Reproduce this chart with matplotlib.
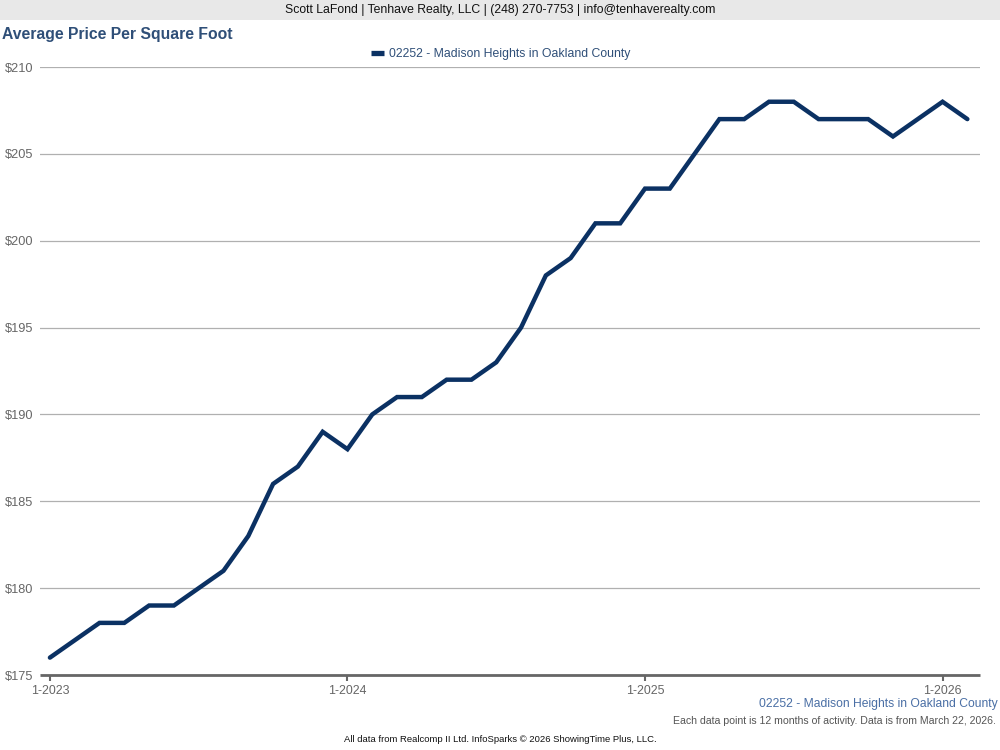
import matplotlib
matplotlib.use("Agg")
import matplotlib.pyplot as plt
from matplotlib.patches import Rectangle

plt.rcParams['font.family'] = ['Liberation Sans', 'DejaVu Sans']

# ---- data ----
series_name = "02252 - Madison Heights in Oakland County"
months = ["1-2023", "2-2023", "3-2023", "4-2023", "5-2023", "6-2023", "7-2023", "8-2023",
          "9-2023", "10-2023", "11-2023", "12-2023",
          "1-2024", "2-2024", "3-2024", "4-2024", "5-2024", "6-2024", "7-2024", "8-2024",
          "9-2024", "10-2024", "11-2024", "12-2024",
          "1-2025", "2-2025", "3-2025", "4-2025", "5-2025", "6-2025", "7-2025", "8-2025",
          "9-2025", "10-2025", "11-2025", "12-2025",
          "1-2026", "2-2026"]
values = [176, 177, 178, 178, 179, 179, 180, 181, 183, 186, 187, 189,
          188, 190, 191, 191, 192, 192, 193, 195, 198, 199, 201, 201,
          203, 203, 205, 207, 207, 208, 208, 207, 207, 207, 206, 207,
          208, 207]
xtick_labels = ["1-2023", "1-2024", "1-2025", "1-2026"]
ytick_values = [175, 180, 185, 190, 195, 200, 205, 210]

fig = plt.figure(figsize=(10, 7.5), dpi=100)
fig.patch.set_facecolor('white')

# header band
fig.add_artist(Rectangle((0, 1 - 20/750), 1, 20/750, transform=fig.transFigure,
                         facecolor='#e8e8e8', edgecolor='none', zorder=0))
fig.text(0.5, 1 - 10.5/750, "Scott LaFond | Tenhave Realty, LLC | (248) 270-7753 | info@tenhaverealty.com",
         ha='center', va='center', fontsize=8.8, color='#111111')
fig.text(0.002, 1 - 34.5/750, "Average Price Per Square Foot", ha='left', va='center',
         fontsize=11.3, fontweight='bold', color='#2f4f78')

ax = fig.add_axes([40/1000, 75/750, 940/1000, 608/750])
x = list(range(len(months)))
ax.plot(x, values, color='#0b3163', lw=3.2, solid_joinstyle='miter', solid_capstyle='round',
        label=series_name, zorder=3)

ax.set_ylim(175, 210)
ax.set_xlim(-0.40, 37.51)
ax.set_yticks(ytick_values)
ax.set_yticklabels([f"${v}" for v in ytick_values])
tick_pos = [months.index(m) for m in xtick_labels]
ax.set_xticks(tick_pos)
ax.set_xticklabels(xtick_labels)

ax.grid(axis='y', color='#b0b0b0', lw=0.9, zorder=0)
ax.set_axisbelow(True)
for s in ['top', 'right', 'left']:
    ax.spines[s].set_visible(False)
ax.spines['bottom'].set_color('#666666')
ax.spines['bottom'].set_linewidth(2.0)
ax.spines['bottom'].set_capstyle('butt')
ax.spines['bottom'].set_zorder(4)
ax.tick_params(axis='y', length=0, pad=5, labelsize=9.2, labelcolor='#666666')
ax.tick_params(axis='x', length=4, width=1.5, color='#666666', pad=3,
               labelsize=8.9, labelcolor='#666666')
for lab in ax.get_yticklabels():
    lab.set_horizontalalignment('right')

leg = ax.legend(loc='lower center', bbox_to_anchor=(0.5 - 9/940, 1.0 + 2/608), frameon=False,
                handlelength=1.0, handletextpad=0.45, fontsize=8.8, borderaxespad=0)
for t in leg.get_texts():
    t.set_color('#2f4f78')
for h in leg.get_lines():
    h.set_linewidth(3.8)
    h.set_solid_capstyle('butt')

fig.text(0.998, 1 - 704/750, series_name, ha='right', va='center', fontsize=8.75, color='#4a6fa5')
fig.text(0.996, 1 - 721/750, "Each data point is 12 months of activity. Data is from March 22, 2026.",
         ha='right', va='center', fontsize=7.6, color='#555555')
fig.text(0.5, 1 - 740/750, "All data from Realcomp II Ltd. InfoSparks \u00a9 2026 ShowingTime Plus, LLC.",
         ha='center', va='center', fontsize=6.8, color='#111111')

fig.savefig("out.png", dpi=100)
